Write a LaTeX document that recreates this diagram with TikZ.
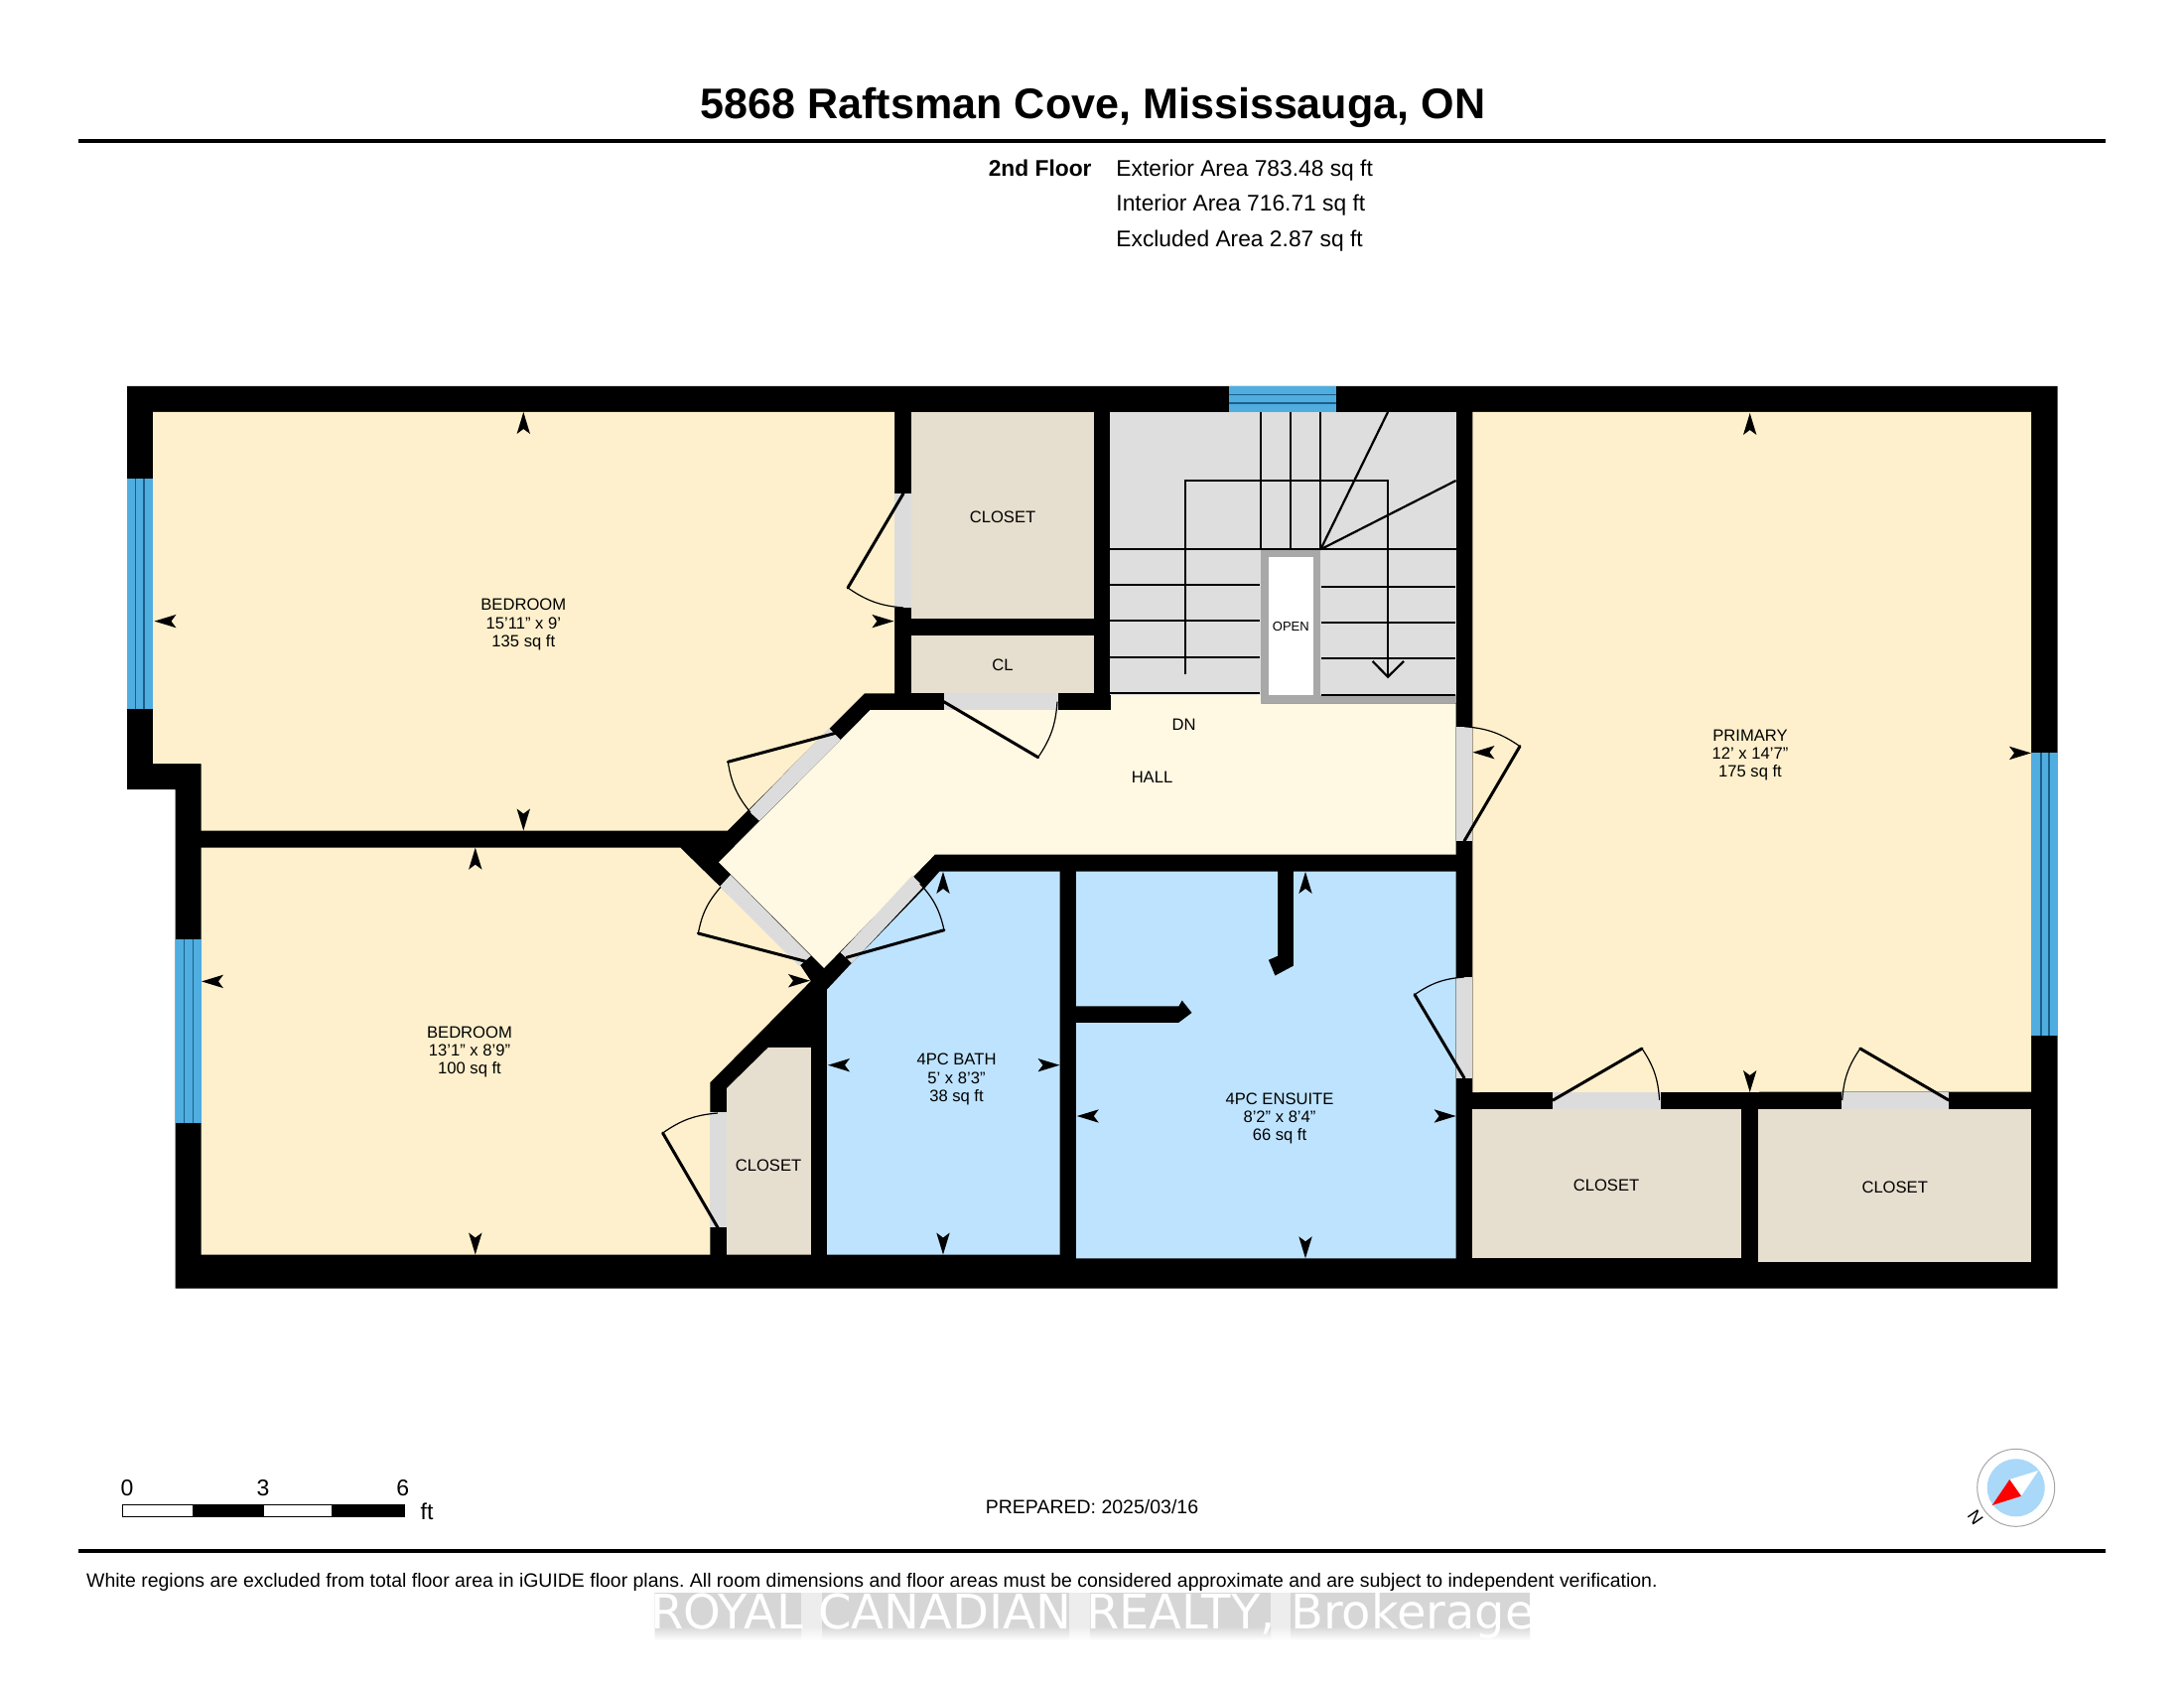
\documentclass[tikz,border=0pt]{standalone}
\usepackage{fontspec}
\setmainfont{Liberation Sans}
\newfontfamily\wmfont{DejaVu Sans}
\usetikzlibrary{arrows.meta}
\definecolor{bedcol}{HTML}{FEF0CC}
\definecolor{hallcol}{HTML}{FFF8E3}
\definecolor{closetcol}{HTML}{E6DECE}
\definecolor{bathcol}{HTML}{BEE3FE}
\definecolor{staircol}{HTML}{DEDEDE}
\definecolor{gapcol}{HTML}{DCDCDC}
\definecolor{wincol}{HTML}{4FADE0}
\definecolor{winline}{HTML}{1B5F88}
\definecolor{framecol}{HTML}{A8A8A8}
\definecolor{compcol}{HTML}{A9D8F8}
\newcommand{\dimtick}[3]{\fill[black,shift={(#1,#2)},rotate=#3] (0,0)--(6.7,22)--(0,17)--(-6.7,22)--cycle;}
\newcommand{\doorswing}[5]{%
  \draw[doorleaf] (#1) -- (#2);
  \draw[doorarc] (#3) to[#4=15] (#5);}
\tikzset{
  roomlabel/.style={font=\fontsize{8.3}{9.15}\selectfont,align=center,inner sep=0pt,text=black},
  doorleaf/.style={line width=1.5pt,black,line cap=round},
  doorarc/.style={line width=0.6pt,black},
  stairline/.style={line width=1.1pt,black},
  winrule/.style={line width=0.6pt,winline},
  infotext/.style={font=\fontsize{11.4}{13}\selectfont,anchor=west,inner sep=0pt},
  rule/.style={line width=2pt,black},
}
\begin{document}
\begin{tikzpicture}[x=0.5pt,y=-0.5pt]
\useasboundingbox (0,0) rectangle (2200,1700);
\fill[white] (0,0) rectangle (2200,1700);
% header
\node[font=\fontsize{21.55}{24}\selectfont\bfseries,inner sep=0pt] (title) at (1101,108) {5868 Raftsman Cove, Mississauga, ON};
\coordinate (hl) at (79,141.7); \coordinate (hr) at (2121,141.7);
\draw[rule] (hl) -- (hr);
\node[font=\fontsize{11.4}{13}\selectfont\bfseries,anchor=east,inner sep=0pt] (floor) at (1100,169.6) {2nd Floor};
\node[infotext] (ext) at (1124,171.2) {Exterior Area 783.48 sq ft};
\node[infotext] (int) at (1124,206.2) {Interior Area 716.71 sq ft};
\node[infotext] (exc) at (1124,242.6) {Excluded Area 2.87 sq ft};
% walls
\fill[black] (128,389)--(2072.7,389)--(2072.7,1297.5)--(176.5,1297.5)--(176.5,795)--(128,795)--cycle;
% bedrooms and primary
\fill[bedcol] (154,415)--(901,415)--(901,698.3)--(870.7,698.3)--(732.7,836.7)--(202.7,836.7)--(202.7,769)--(154,769)--cycle;
\fill[bedcol] (202.7,853.5)--(685,853.5)--(806,972)--(816.7,988)--(715.4,1090)--(715.4,1263.5)--(202.7,1263.5)--cycle;
\fill[bedcol] (1483.3,415)--(2046,415)--(2046,1099.5)--(1483.3,1100)--cycle;
% hall
\fill[hallcol] (876.7,715)--(1119,715)--(1119,698.3)--(1270,698.3)--(1270,708.3)--(1466.6,708.3)--(1466.6,860.7)--(941.7,860.7)--(830,975)--(724,868.3)--cycle;
% closets
\fill[closetcol] (918,415) rectangle (1102,622.6);
\fill[closetcol] (918,640) rectangle (1102,698);
\fill[closetcol] (774,1054.8)--(816.8,1054.8)--(816.8,1263.5)--(732,1263.5)--(732,1096)--cycle;
\fill[closetcol] (1483.3,1116.7) rectangle (1754,1267.3);
\fill[closetcol] (1771.3,1116.7) rectangle (2046,1271.3);
% baths
\fill[bathcol] (833,996.7)--(858,970)--(932.7,893.3)--(946.7,877.5)--(1067.5,877.5)--(1067.5,1263.5)--(833,1263.5)--cycle;
\fill[bathcol] (1084,877.5)--(1287,877.5)--(1287,962.7)--(1277.7,966.7)--(1284.4,982.7)--(1303,972.7)--(1303,877.5)--(1466.6,877.5)--(1466.6,1267.3)--(1084,1267.3)--(1084,1030)--(1187.3,1030)--(1200.7,1020)--(1190.7,1007.3)--(1187.3,1013.3)--(1084,1013.3)--cycle;
% stairs
\fill[staircol] (1118.3,415) rectangle (1466.6,700);
\fill[framecol] (1270,553.3) rectangle (1330,708.3);
\fill[framecol] (1330,700) rectangle (1466.6,708.3);
\fill[white] (1277.7,561) rectangle (1322.7,700);
\draw[stairline] (1270,415)--(1270,553.3);
\draw[stairline] (1300.3,415)--(1300.3,553.3);
\draw[stairline] (1330.3,415)--(1330.3,553.3);
\draw[stairline] (1118.3,553.3)--(1466.6,553.3);
\draw[stairline] (1330.3,553.3)--(1398,415);
\draw[stairline] (1330.3,553.3)--(1466.6,484);
\draw[stairline] (1118.3,589.3)--(1269,589.3);
\draw[stairline] (1118.3,625.3)--(1269,625.3);
\draw[stairline] (1118.3,662)--(1269,662);
\draw[stairline] (1118.3,698.3)--(1269,698.3);
\draw[stairline] (1330.7,590.7)--(1466,590.7);
\draw[stairline] (1330.7,626.7)--(1466,626.7);
\draw[stairline] (1330.7,663.3)--(1466,663.3);
\draw[stairline] (1330.7,700)--(1466,700);
\draw[stairline] (1194,679.3)--(1194,484)--(1398,484)--(1398,681.7);
\draw[stairline] (1382.7,666)--(1398,681.7)--(1414,666);
\node[font=\fontsize{6.5}{7}\selectfont,inner sep=0pt] (open) at (1300.3,631) {OPEN};
% door openings
\fill[gapcol] (901,497) rectangle (918,612);
\fill[gapcol] (950.7,698) rectangle (1066,715);
\fill[gapcol] (1466.6,731.7) rectangle (1483.3,847);
\fill[gapcol] (1466.6,984) rectangle (1483.3,1085.7);
\fill[gapcol] (715.4,1120) rectangle (732,1236.3);
\fill[gapcol] (1564.4,1100) rectangle (1673,1116.7);
\fill[gapcol] (1855,1099.5) rectangle (1963,1116.7);
\fill[gapcol] (835,733.3)--(846.7,745)--(765,826.7)--(754,816.7)--cycle;
\fill[gapcol] (725,893)--(736,881)--(816.7,962.7)--(805,973)--cycle;
\fill[gapcol] (846.7,959.3)--(858,970)--(930,893)--(919,881.7)--cycle;
% door swings
\doorswing{910,497}{854,592}{854,592}{bend right}{910,612}
\doorswing{1475,847}{1531,751.6}{1475,731.7}{bend left}{1531,751.6}
\doorswing{1475,1085.7}{1425,1001.7}{1425,1001.7}{bend left}{1475,984}
\doorswing{723,1236.3}{667.6,1141}{667.6,1141}{bend left}{723,1121}
\doorswing{1564.4,1108}{1654,1056}{1654,1056}{bend left}{1671.6,1108}
\doorswing{1963,1108}{1873.8,1056}{1873.8,1056}{bend right}{1855.7,1108}
\doorswing{950.7,706.7}{1045.7,762.7}{1045.7,762.7}{bend right}{1065,706.7}
\doorswing{841.7,738.3}{733.3,767.3}{733.3,767.3}{bend right}{756,818.3}
\doorswing{811.7,968.3}{703.3,940}{703.3,940}{bend left}{726,893.3}
\doorswing{852.7,964.3}{951,936.7}{951,936.7}{bend right}{926.7,890}
% windows
\fill[wincol] (128,482) rectangle (154,714);
\draw[winrule] (136.5,482)--(136.5,714);
\draw[winrule] (145,482)--(145,714);
\fill[wincol] (176.5,946.3) rectangle (202.7,1131.3);
\draw[winrule] (185.5,946.3)--(185.5,1131.3);
\draw[winrule] (194.4,946.3)--(194.4,1131.3);
\fill[wincol] (1238.3,389) rectangle (1346,415);
\draw[winrule] (1238.3,397.3)--(1346,397.3);
\draw[winrule] (1238.3,406)--(1346,406);
\fill[wincol] (2046,758) rectangle (2072.7,1042.7);
\draw[winrule] (2056,758)--(2056,1042.7);
\draw[winrule] (2064,758)--(2064,1042.7);
% dimension ticks
\dimtick{527.3}{415}{0}\dimtick{527.3}{836.5}{180}\dimtick{155.5}{625.6}{90}\dimtick{900.4}{625.6}{-90}
\dimtick{478.8}{853.7}{0}\dimtick{478.8}{1263.5}{180}\dimtick{203}{988.4}{90}\dimtick{816}{987.7}{-90}
\dimtick{950}{878}{0}\dimtick{950}{1263.5}{180}\dimtick{834}{1072.7}{90}\dimtick{1067.5}{1072.7}{-90}
\dimtick{1315}{878}{0}\dimtick{1315}{1267.3}{180}\dimtick{1084.8}{1124}{90}\dimtick{1466.6}{1124}{-90}
\dimtick{1762.7}{416}{0}\dimtick{1762.7}{1100}{180}\dimtick{1483.5}{757.7}{90}\dimtick{2046}{758.4}{-90}
% room labels
\node[roomlabel] (bed1) at (527.3,629) {BEDROOM\\15'11" x 9'\\135 sq ft};
\node[roomlabel] (bed2) at (473,1059.5) {BEDROOM\\13'1" x 8'9"\\100 sq ft};
\node[roomlabel] (bath) at (963.5,1087) {4PC BATH\\5' x 8'3"\\38 sq ft};
\node[roomlabel] (ens) at (1289,1126.3) {4PC ENSUITE\\8'2" x 8'4"\\66 sq ft};
\node[roomlabel] (prim) at (1763,760.7) {PRIMARY\\12' x 14'7"\\175 sq ft};
\node[roomlabel] (hall) at (1160.5,782.4) {HALL};
\node[roomlabel] (dn) at (1192.7,730) {DN};
\node[roomlabel] (cl1) at (1010,520.4) {CLOSET};
\node[roomlabel] (cl) at (1010,670) {CL};
\node[roomlabel] (cl2) at (774,1173.6) {CLOSET};
\node[roomlabel] (cl3) at (1618,1193.8) {CLOSET};
\node[roomlabel] (cl4) at (1908.7,1195.5) {CLOSET};
% scale bar
\fill[white,draw=black,line width=0.4pt] (123.8,1515.7) rectangle (407.6,1527.7);
\fill[black] (194,1515.7) rectangle (266,1527.7);
\fill[black] (334,1515.7) rectangle (407.6,1527.7);
\node[font=\fontsize{11.5}{13}\selectfont,inner sep=0pt] (s0) at (128,1498.8) {0};
\node[font=\fontsize{11.5}{13}\selectfont,inner sep=0pt] (s3) at (265,1498.8) {3};
\node[font=\fontsize{11.5}{13}\selectfont,inner sep=0pt] (s6) at (405.7,1498.8) {6};
\node[font=\fontsize{11.5}{13}\selectfont,inner sep=0pt] (sft) at (430,1522.7) {ft};
% prepared
\node[font=\fontsize{9.75}{11}\selectfont,inner sep=0pt] (prep) at (1100,1518) {PREPARED: 2025/03/16};
% compass
\fill[white,draw=black!35,line width=0.5pt] (2030.7,1498.3) circle (39);
\fill[compcol] (2030.7,1498.3) circle (29);
\fill[white] (2053.3,1481)--(2024.3,1490)--(2036,1506.7)--cycle;
\fill[red] (2006.7,1516)--(2024.3,1490)--(2036,1506.7)--cycle;
\node[font=\fontsize{9}{10}\selectfont,rotate=-55,inner sep=0pt] (north) at (1990,1528.3) {N};
% footer
\coordinate (fl) at (79,1562); \coordinate (fr) at (2121,1562);
\draw[rule] (fl) -- (fr);
\node[font=\frenchspacing\fontsize{9.73}{11}\selectfont,anchor=west,inner sep=0pt] (disc) at (86.8,1593.5) {White regions are excluded from total floor area in iGUIDE floor plans. All room dimensions and floor areas must be considered approximate and are subject to independent verification.};
% watermark
\fill[black!7] (659,1604) rectangle (1541,1638);
\shade[top color=black!7,bottom color=white] (659,1638) rectangle (1541,1652);
\fill[black!16] (660,1604) rectangle (807,1638);
\shade[top color=black!16,bottom color=white] (660,1638) rectangle (807,1652);
\fill[black!16] (828,1604) rectangle (1077,1638);
\shade[top color=black!16,bottom color=white] (828,1638) rectangle (1077,1652);
\fill[black!16] (1098,1604) rectangle (1280,1638);
\shade[top color=black!16,bottom color=white] (1098,1638) rectangle (1280,1652);
\fill[black!16] (1300,1604) rectangle (1541,1638);
\shade[top color=black!16,bottom color=white] (1300,1638) rectangle (1541,1652);
\node[font=\wmfont\fontsize{24}{26}\selectfont,text=white,inner sep=0pt,anchor=base] (wm) at (1100.5,1640) {ROYAL CANADIAN REALTY, Brokerage};
\end{tikzpicture}
\end{document}
